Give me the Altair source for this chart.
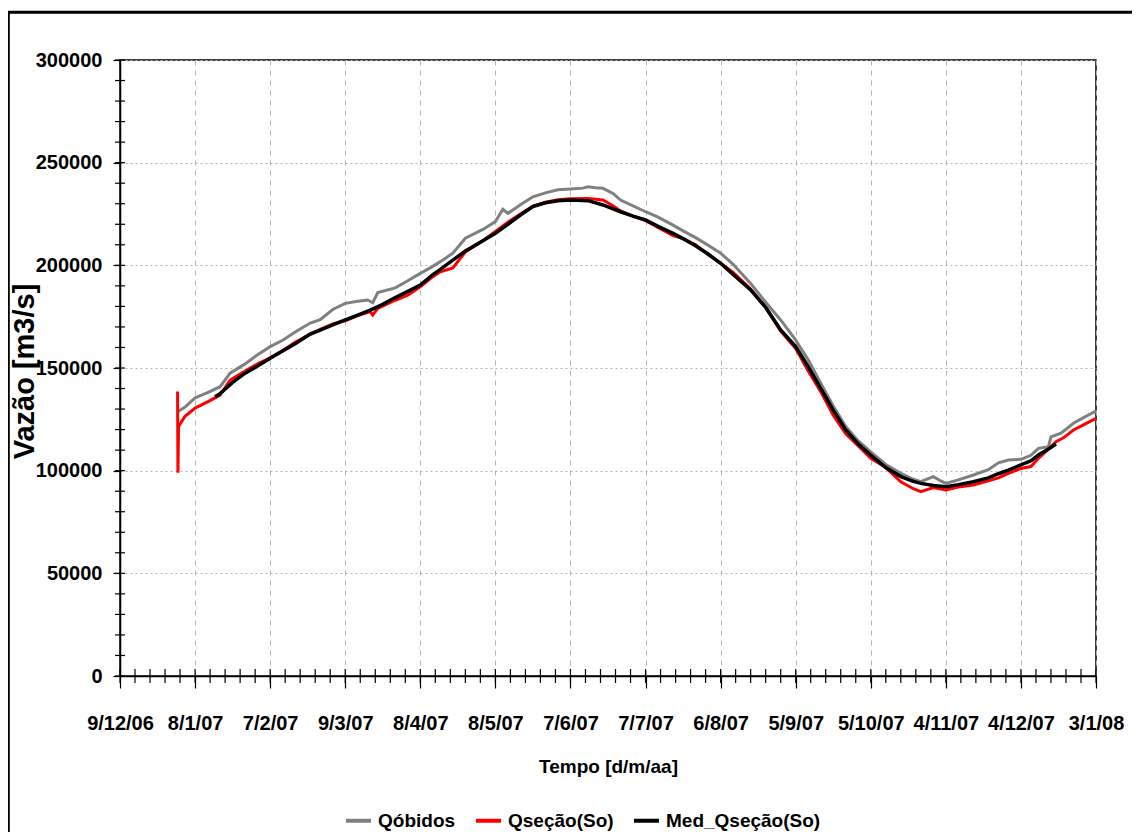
import altair as alt
import pandas as pd

BASE = pd.Timestamp("2006-12-09")

# Qóbidos (grey) - day offsets from 9/12/06 and discharge
obidos_days = [23, 26, 30, 35, 40, 44, 50, 55, 60, 65, 70, 76, 80, 85, 90, 95, 99, 101,
               103, 110, 115, 120, 125, 128, 133, 138, 145, 150, 153, 155, 160, 165, 170,
               175, 180, 185, 187, 190, 193, 197, 200, 205, 210, 215, 221, 225, 230, 235,
               240, 245, 252, 258, 264, 270, 275, 280, 285, 290, 295, 300, 306, 312, 317,
               320, 325, 328, 330, 335, 341, 347, 351, 355, 360, 364, 367, 371, 372, 376,
               381, 385, 390]
obidos_vals = [128700, 131000, 135500, 138000, 140900, 147500, 152000, 156500, 160400,
               163500, 167500, 171900, 173500, 178500, 181500, 182500, 183100, 181800,
               186700, 189000, 192500, 196100, 199500, 201800, 205900, 213200, 217500,
               221300, 227300, 225300, 229500, 233400, 235300, 236800, 237200, 237600,
               238300, 237800, 237500, 235000, 231800, 229000, 226100, 223500, 219600,
               216800, 213500, 209800, 205900, 200500, 191200, 182000, 173400, 163600,
               154000, 142600, 131500, 121500, 114500, 109200, 103000, 98700, 95800,
               94600, 97100, 95000, 93800, 95500, 97900, 100500, 103800, 105200, 105500,
               107500, 110900, 111700, 116500, 118300, 123100, 125800, 129000]

# Qseção(So) (red)
secao_days = [23.0, 23.15, 23.4, 26, 30, 35, 40, 44, 50, 55, 60, 65, 70, 76, 80, 85, 90,
              95, 100, 101, 103, 110, 115, 120, 125, 128, 133, 138, 145, 150, 155, 160,
              165, 170, 175, 180, 187, 193, 197, 200, 205, 210, 215, 221, 225, 230, 235,
              240, 245, 252, 258, 264, 270, 275, 280, 285, 290, 295, 300, 306, 312, 317,
              320, 325, 330, 335, 341, 347, 351, 355, 360, 364, 367, 371, 374, 377, 381,
              385, 390]
secao_vals = [138500, 99000, 121500, 126500, 130500, 133500, 136850, 144150, 148500,
              152000, 155000, 158500, 162500, 166500, 168800, 171500, 173000, 175500,
              177500, 175800, 179000, 183000, 185500, 189500, 194500, 196900, 198700,
              206500, 212000, 216500, 221000, 225000, 228800, 230800, 232000, 232400,
              232600, 231800, 229000, 226500, 224000, 221800, 218500, 214500, 213000,
              210000, 205200, 201000, 196500, 188500, 179500, 168000, 159500, 148500,
              138500, 127000, 118000, 112000, 106000, 101500, 94600, 91200, 89800, 91800,
              90600, 92000, 93000, 95000, 96500, 98700, 101100, 102000, 106000, 110500,
              114100, 116000, 119800, 122300, 125500]

# Med_Qseção(So) (black)
med_days = [38, 40, 45, 50, 55, 60, 65, 70, 76, 80, 85, 90, 95, 100, 105, 110, 115, 120,
            125, 128, 133, 138, 145, 150, 155, 160, 165, 170, 175, 180, 187, 193, 200, 205,
            210, 215, 221, 225, 230, 235, 240, 245, 252, 258, 264, 270, 275, 280, 285, 290,
            295, 300, 306, 312, 317, 320, 325, 330, 335, 341, 347, 351, 355, 360, 364, 367,
            371, 374]
med_vals = [136000, 137500, 143000, 147500, 151000, 154700, 158300, 161800, 166500, 168500,
            171000, 173400, 175800, 178200, 181000, 184300, 187300, 190400, 195500, 198000,
            202500, 207000, 212000, 215600, 220000, 224500, 228600, 230500, 231500, 231800,
            231500, 229400, 226100, 224000, 222100, 219000, 215600, 213000, 209500, 205500,
            201000, 195500, 188000, 179500, 168500, 160400, 150600, 140100, 129500, 119800,
            113000, 107600, 101500, 97100, 94800, 93800, 92800, 92200, 93200, 94600, 96500,
            98500, 100300, 102800, 104800, 107600, 110500, 113000]

series_names = ["Qóbidos", "Qseção(So)", "Med_Qseção(So)"]
series_colors = ["#808080", "#ff0000", "#000000"]

major_x_days = list(range(0, 391, 30))
minor_x_days = list(range(0, 391, 6))
major_y = list(range(0, 300001, 50000))
minor_y = list(range(0, 300001, 10000))


def to_ms(days):
    return [int((BASE + pd.to_timedelta(d, unit="D")).value // 10**6) for d in days]


frames = []
for name, days, vals in [(series_names[0], obidos_days, obidos_vals),
                         (series_names[1], secao_days, secao_vals),
                         (series_names[2], med_days, med_vals)]:
    frames.append(pd.DataFrame({"t": to_ms(days), "v": vals, "series": name}))
df = pd.concat(frames, ignore_index=True)

FONT = "Liberation Sans, Arial"
W, H = 976, 616

xscale = alt.Scale(type="utc", domain=to_ms([0, 390]), nice=False)
yscale = alt.Scale(domain=[0, 300000], nice=False)
color = alt.Color("series:N", scale=alt.Scale(domain=series_names, range=series_colors),
                  legend=alt.Legend(title=None, orient="none", direction="horizontal",
                                    legendX=224, legendY=746, symbolType="stroke",
                                    symbolSize=625, symbolStrokeWidth=4,
                                    labelFont=FONT, labelFontSize=19, labelFontWeight="bold",
                                    labelColor="black", labelOffset=5, columnPadding=12,
                                    columns=3, labelLimit=400))

xaxis = alt.Axis(values=to_ms(major_x_days), format="%-d/%-m/%y", title="Tempo [d/m/aa]",
                 labelFont=FONT, labelFontSize=20, labelFontWeight="bold", labelColor="black",
                 labelPadding=25, tickSize=12, tickColor="black", tickWidth=1.2,
                 domainColor="black", domainWidth=1.5, grid=True, gridColor="#b4b4b4",
                 gridDash=[5, 5], gridWidth=1, titleFont=FONT, titleFontSize=19,
                 titleFontWeight="bold", titleColor="black", titleY=90,
                 titleBaseline="middle", labelFlush=False, labelOverlap=False)
yaxis = alt.Axis(values=major_y, format="d", title="Vazão [m3/s]", labelFont=FONT,
                 labelFontSize=20, labelFontWeight="bold", labelColor="black",
                 labelPadding=11, tickSize=7, tickColor="black", tickWidth=1.2,
                 domainColor="black", domainWidth=1.5, grid=True, gridColor="#b4b4b4",
                 gridDash=[2, 3], gridWidth=1, titleFont=FONT,
                 titleFontSize=29, titleFontWeight="bold", titleColor="black",
                 titleX=-96, titleY=H / 2 + 3, titleBaseline="middle", titleAngle=270,
                 labelFlush=False)

X = alt.X("t:T", scale=xscale, axis=xaxis)
Y = alt.Y("v:Q", scale=yscale, axis=yaxis)

base = alt.Chart(df)
widths = {"Qóbidos": 3, "Qseção(So)": 3, "Med_Qseção(So)": 3.5}
lines = []
for name in series_names:
    lines.append(
        base.transform_filter(alt.datum.series == name)
        .mark_line(strokeWidth=widths[name], clip=True)
        .encode(x=X, y=Y, color=color)
    )

ymin = alt.Chart(pd.DataFrame({"v": minor_y})).mark_rule(color="black", strokeWidth=1.2).encode(
    y=Y, x=alt.value(-5), x2=alt.value(5))
xmin = alt.Chart(pd.DataFrame({"t": to_ms(minor_x_days)})).mark_rule(color="black", strokeWidth=1.2).encode(
    x=X, y=alt.value(H - 7), y2=alt.value(H + 7))

frame = alt.Chart(pd.DataFrame({"k": [0]})).mark_rect(
    fill=None, stroke="black", strokeWidth=3).encode(
    x=alt.value(-111.7), x2=alt.value(1060), y=alt.value(-47.7), y2=alt.value(820))

chart = alt.layer(*lines, ymin, xmin, frame).properties(
    width=W, height=H, autosize=alt.AutoSizeParams(type="none"),
    padding={"left": 112, "top": 52, "right": 36, "bottom": 156},
    background="white",
).configure_view(stroke="black", strokeWidth=1.5)

chart.save("out.html", embed_options={"renderer": "svg", "actions": False})
